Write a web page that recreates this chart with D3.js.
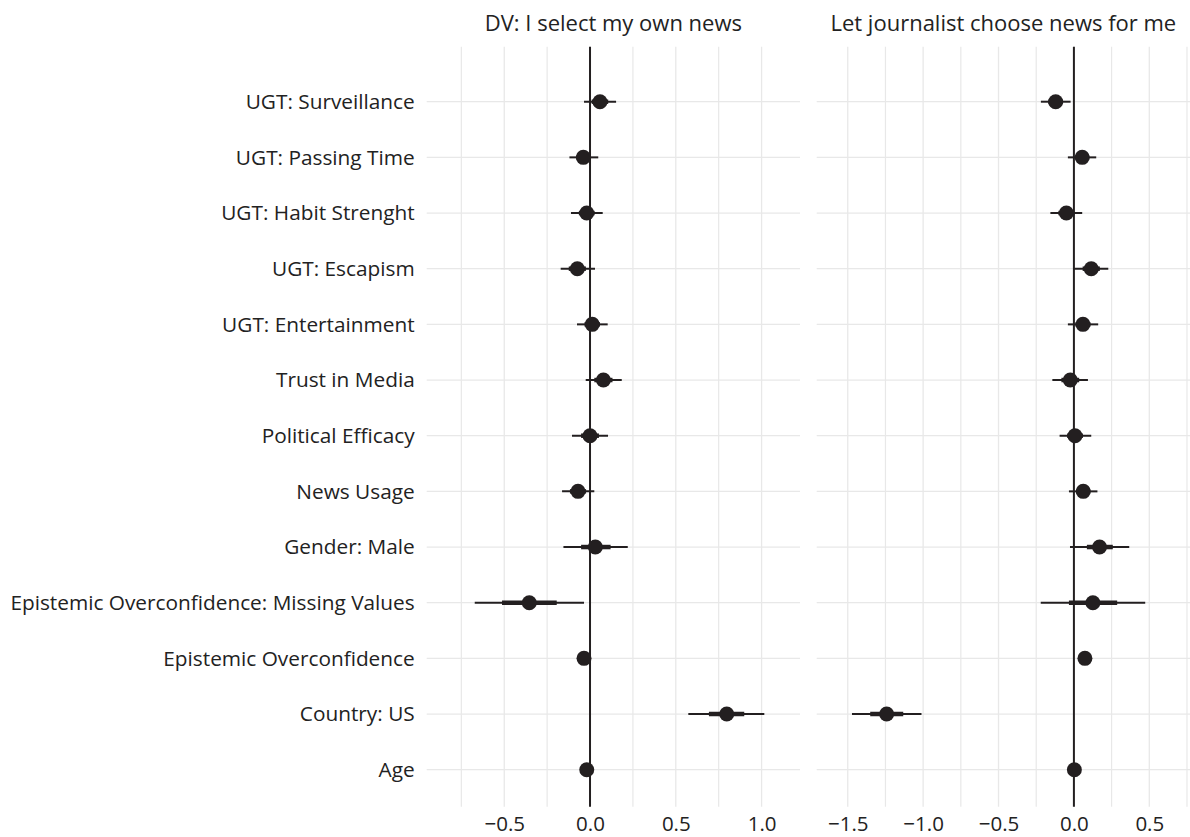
<!DOCTYPE html>
<html>
<head>
<meta charset="utf-8">
<script src="https://cdn.jsdelivr.net/npm/d3@7"></script>
<style>
  body { margin: 0; background: #fff; }
  text { font-family: "Open Sans", sans-serif; fill: #222; }
</style>
</head>
<body>
<svg id="chart" width="1190" height="837"></svg>
<script>
// terms, top to bottom
const terms = [
  'UGT: Surveillance', 'UGT: Passing Time', 'UGT: Habit Strenght', 'UGT: Escapism',
  'UGT: Entertainment', 'Trust in Media', 'Political Efficacy', 'News Usage',
  'Gender: Male', 'Epistemic Overconfidence: Missing Values', 'Epistemic Overconfidence',
  'Country: US', 'Age'
];

const panelTitles = ['DV: I select my own news', 'Let journalist choose news for me'];

// panel 1: I select my own news
const ownEst  = [0.058, -0.039, -0.019, -0.074, 0.013, 0.078, 0.000, -0.070, 0.031, -0.354, -0.035, 0.797, -0.019];
const ownLo95 = [-0.035, -0.120, -0.111, -0.171, -0.076, -0.025, -0.105, -0.163, -0.155, -0.672, -0.060, 0.573, -0.030];
const ownHi95 = [0.152, 0.048, 0.074, 0.029, 0.103, 0.185, 0.105, 0.025, 0.220, -0.035, -0.010, 1.016, -0.008];
const ownLo68 = [0.010, -0.080, -0.065, -0.124, -0.032, 0.025, -0.052, -0.117, -0.052, -0.513, -0.047, 0.693, -0.025];
const ownHi68 = [0.106, 0.004, 0.027, -0.024, 0.058, 0.131, 0.052, -0.023, 0.120, -0.194, -0.023, 0.899, -0.013];

// panel 2: let journalist choose
const jourEst  = [-0.121, 0.055, -0.050, 0.115, 0.060, -0.024, 0.007, 0.062, 0.170, 0.126, 0.073, -1.242, 0.003];
const jourLo95 = [-0.219, -0.040, -0.156, 0.000, -0.040, -0.143, -0.095, -0.033, -0.026, -0.220, 0.050, -1.472, -0.008];
const jourHi95 = [-0.022, 0.148, 0.055, 0.228, 0.161, 0.093, 0.115, 0.156, 0.367, 0.473, 0.096, -1.011, 0.014];
const jourLo68 = [-0.170, 0.008, -0.103, 0.058, 0.010, -0.083, -0.045, 0.015, 0.086, -0.033, 0.062, -1.351, -0.003];
const jourHi68 = [-0.072, 0.102, 0.003, 0.172, 0.110, 0.035, 0.060, 0.109, 0.258, 0.287, 0.084, -1.132, 0.009];

const ownTicks = [-0.5, 0, 0.5, 1.0];
const ownMinor = [-0.75, -0.25, 0.25, 0.75];
const jourTicks = [-1.5, -1.0, -0.5, 0, 0.5];
const jourMinor = [-1.25, -0.75, -0.25, 0.25, 0.75];

const rows = (est, lo95, hi95, lo68, hi68) =>
  terms.map((t, i) => ({term: t, est: est[i], lo95: lo95[i], hi95: hi95[i], lo68: lo68[i], hi68: hi68[i]}));

const panels = [
  {title: panelTitles[0], data: rows(ownEst, ownLo95, ownHi95, ownLo68, ownHi68),
   domain: [-0.952, 1.224], range: [426.7, 800], ticks: ownTicks, minor: ownMinor},
  {title: panelTitles[1], data: rows(jourEst, jourLo95, jourHi95, jourLo68, jourHi68),
   domain: [-1.706, 0.77], range: [816.7, 1190], ticks: jourTicks, minor: jourMinor}
];

const panelTop = 46.7, panelBottom = 806.7;
const gridColor = '#e8e8e8';
const ink = '#231f20';

const svg = d3.select('#chart');

const yScale = d3.scalePoint()
    .domain(terms)
    .range([101.7, 769.7]);

const fmt = d => d3.format('.1f')(d).replace('-', '\u2212');

panels.forEach(p => {
  const xScale = d3.scaleLinear().domain(p.domain).range(p.range);
  const g = svg.append('g');

  // horizontal grid
  g.selectAll('.hgrid')
      .data(terms)
    .join('line')
      .attr('x1', p.range[0]).attr('x2', p.range[1])
      .attr('y1', d => yScale(d)).attr('y2', d => yScale(d))
      .attr('stroke', gridColor).attr('stroke-width', 1.3);

  // vertical grid (minor + major)
  g.selectAll('.vminor')
      .data(p.minor.filter(v => v >= p.domain[0] && v <= p.domain[1]))
    .join('line')
      .attr('x1', d => xScale(d)).attr('x2', d => xScale(d))
      .attr('y1', panelTop).attr('y2', panelBottom)
      .attr('stroke', gridColor).attr('stroke-width', 1.2);

  g.selectAll('.vmajor')
      .data(p.ticks)
    .join('line')
      .attr('x1', d => xScale(d)).attr('x2', d => xScale(d))
      .attr('y1', panelTop).attr('y2', panelBottom)
      .attr('stroke', gridColor).attr('stroke-width', 1.3);

  // zero reference line
  g.append('line')
      .attr('x1', xScale(0)).attr('x2', xScale(0))
      .attr('y1', panelTop).attr('y2', panelBottom)
      .attr('stroke', ink).attr('stroke-width', 2);

  // 95% intervals
  g.selectAll('.ci95')
      .data(p.data)
    .join('line')
      .attr('x1', d => xScale(d.lo95)).attr('x2', d => xScale(d.hi95))
      .attr('y1', d => yScale(d.term)).attr('y2', d => yScale(d.term))
      .attr('stroke', ink).attr('stroke-width', 2);

  // 68% intervals
  g.selectAll('.ci68')
      .data(p.data)
    .join('line')
      .attr('x1', d => xScale(d.lo68)).attr('x2', d => xScale(d.hi68))
      .attr('y1', d => yScale(d.term)).attr('y2', d => yScale(d.term))
      .attr('stroke', ink).attr('stroke-width', 4.5);

  // point estimates
  g.selectAll('.pt')
      .data(p.data)
    .join('circle')
      .attr('cx', d => xScale(d.est))
      .attr('cy', d => yScale(d.term))
      .attr('r', 7.5)
      .attr('fill', ink);

  // x axis
  const xAxis = d3.axisBottom(xScale)
      .tickValues(p.ticks)
      .tickSize(0)
      .tickPadding(10)
      .tickFormat(fmt);

  const xg = g.append('g')
      .attr('transform', `translate(0,${panelBottom})`)
      .call(xAxis);
  xg.select('.domain').remove();
  xg.selectAll('text')
      .attr('font-family', '"Open Sans", sans-serif')
      .attr('font-size', 20.5)
      .attr('fill', '#222');

  // panel title
  g.append('text')
      .attr('x', (p.range[0] + p.range[1]) / 2)
      .attr('y', 31)
      .attr('text-anchor', 'middle')
      .attr('font-size', 22)
      .text(p.title);
});

// y axis labels
const yAxis = d3.axisLeft(yScale)
    .tickSize(0)
    .tickPadding(12);

const yg = svg.append('g')
    .attr('transform', 'translate(426.7,0)')
    .call(yAxis);
yg.select('.domain').remove();
yg.selectAll('text')
    .attr('font-family', '"Open Sans", sans-serif')
    .attr('font-size', 20.8)
    .attr('fill', '#222');
</script>
</body>
</html>
